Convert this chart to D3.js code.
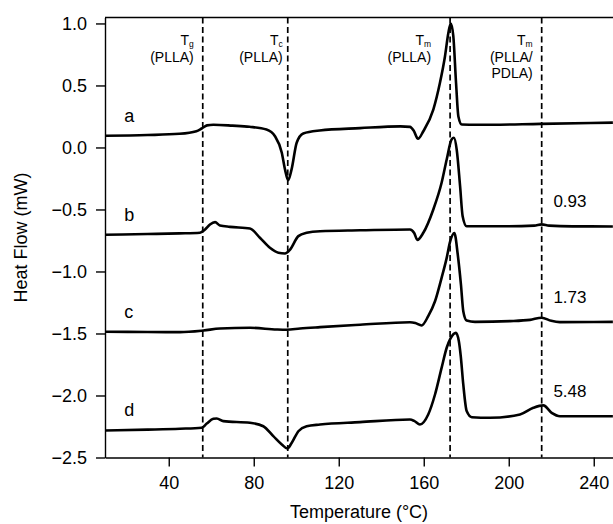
<!DOCTYPE html>
<html lang="en">
	<head>
		<title>DSC thermograms</title>
		<style>
			body { margin: 0; background: #fff; }
			text { font-family: Arial, "Liberation Sans", sans-serif; fill: #000; }
			.curve { fill: none; stroke: #000; stroke-width: 2.6px; stroke-linejoin: round; }
			.guide { stroke: #000; stroke-width: 1.7px; stroke-dasharray: 6,3.5; }
			.axis path, .axis line, .frame { stroke: #000; stroke-width: 1.4px; fill: none; }
			.axis text { font-size: 18px; }
		</style>
	</head>
	<body>
		<div id="graphic"></div>

		<script src="https://cdnjs.cloudflare.com/ajax/libs/d3/7.8.5/d3.min.js"></script>
		<script>
            // [temperature (°C), heat flow (mW)]
            var curveA = [[10, 0.094], [30, 0.100], [45, 0.110], [53, 0.131], [55.5, 0.153], [58, 0.178], [61, 0.183],
                          [70, 0.176], [78, 0.167], [86, 0.145], [90, 0.091], [93.2, -0.043], [94.7, -0.177], [96.2, -0.264],
                          [97.8, -0.177], [100.2, 0.038], [103.3, 0.113], [111, 0.137], [130, 0.156], [149, 0.170],
                          [153.5, 0.166], [155.3, 0.135], [157.3, 0.070], [159.8, 0.131], [164.5, 0.306], [167.6, 0.52],
                          [170, 0.736], [171.6, 0.925], [172.7, 1.0], [173.9, 0.90], [175.2, 0.52], [176.3, 0.25],
                          [177.9, 0.185], [185, 0.183], [215, 0.19], [249, 0.2]];
            var curveB = [[10, -0.704], [30, -0.698], [45, -0.693], [54.7, -0.688], [57.1, -0.661], [59.4, -0.621],
                          [61.8, -0.602], [64.1, -0.629], [68.8, -0.640], [78.2, -0.653], [82.9, -0.728], [87.6, -0.809],
                          [91.6, -0.849], [94.7, -0.855], [97.1, -0.823], [101, -0.715], [104.9, -0.688], [111.2, -0.675],
                          [130, -0.668], [153.5, -0.661], [155.5, -0.69], [157, -0.745], [159.8, -0.688], [164.5, -0.5],
                          [168.4, -0.285], [170.8, -0.097], [173.1, 0.065], [174.2, 0.078], [175.5, -0.016], [177.1, -0.312],
                          [178.3, -0.554], [180.2, -0.635], [200, -0.635], [212, -0.63], [215.5, -0.62], [219, -0.63],
                          [230, -0.636], [249, -0.637]];
            var curveC = [[10, -1.486], [30, -1.488], [45.3, -1.489], [56.3, -1.476], [64.1, -1.46], [78.2, -1.454],
                          [90.8, -1.468], [95.5, -1.47], [101.8, -1.46], [111.2, -1.449], [130, -1.43], [153.5, -1.409],
                          [156, -1.415], [159, -1.435], [162.1, -1.36], [165.3, -1.24], [168.4, -1.051], [170.8, -0.89],
                          [172.4, -0.76], [174.4, -0.69], [176, -0.863], [177.5, -1.105], [178.6, -1.32], [180.2, -1.395],
                          [184.1, -1.406], [200.6, -1.40], [210, -1.39], [215.5, -1.373], [220, -1.398], [224, -1.408],
                          [249, -1.406]];
            var curveD = [[10, -2.282], [30, -2.275], [45.3, -2.268], [55.5, -2.26], [57.9, -2.226], [61, -2.188],
                          [62.6, -2.185], [65.7, -2.207], [78.2, -2.22], [84.5, -2.248], [89.2, -2.328], [93.2, -2.395],
                          [95.8, -2.427], [97.9, -2.381], [101, -2.288], [104.9, -2.248], [111.2, -2.234], [130, -2.215],
                          [153.5, -2.194], [155.5, -2.205], [158.2, -2.234], [162.1, -2.153], [165.3, -1.992], [168.4, -1.777],
                          [170.8, -1.615], [172.6, -1.54], [175.1, -1.495], [176.5, -1.56], [177.4, -1.68],
                          [178.6, -1.911], [180.2, -2.126], [182.6, -2.175], [191.2, -2.18], [205.3, -2.153], [211.6, -2.099],
                          [216.3, -2.08], [220.2, -2.14], [224.1, -2.167], [249, -2.167]];

            var seriesNames = ['a', 'b', 'c', 'd'],
                seriesRatio = ['', '0.93', '1.73', '5.48'];

            var guideTemps = [56, 96, 172.4, 215.5],
                guideSub = ['g', 'c', 'm', 'm'],
                guideText = [['(PLLA)'], ['(PLLA)'], ['(PLLA)'], ['(PLLA/', 'PDLA)']];

            var xTicks = [40, 80, 120, 160, 200, 240],
                yTicks = [1.0, 0.5, 0.0, -0.5, -1.0, -1.5, -2.0, -2.5];

            var width = 613, height = 524;
            var curves = [curveA, curveB, curveC, curveD];

            var svg = d3.select('#graphic')
                        .append('svg')
                        .attr('width', width)
                        .attr('height', height);

            svg.append('rect').attr('width', width).attr('height', height).attr('fill', '#fff');

            var x = d3.scaleLinear().domain([10, 250]).range([105, 615]);
            var y = d3.scaleLinear().domain([-2.5, 1.048]).range([457.5, 17.5]);

            // top frame line
            svg.append('line').classed('frame', true)
               .attr('x1', x(10)).attr('x2', width + 2)
               .attr('y1', y.range()[1]).attr('y2', y.range()[1]);

            svg.append('g').classed('axis', true)
               .attr('transform', 'translate(0,' + y.range()[0] + ')')
               .call(d3.axisBottom(x).tickValues(xTicks).tickSize(9).tickPadding(10).tickSizeOuter(0));

            svg.append('g').classed('axis', true)
               .attr('transform', 'translate(' + x(10) + ',0)')
               .call(d3.axisLeft(y).tickValues(yTicks).tickFormat(d3.format('.1f')).tickSize(9).tickPadding(9).tickSizeOuter(0));

            svg.selectAll('.axis .domain').attr('stroke-width', 1.6);

            // dashed guides and their labels
            var labelGap = [9, 5, 19, 9];
            svg.selectAll('.guide')
               .data(guideTemps)
               .enter()
                   .append('line')
                   .classed('guide', true)
                   .attr('x1', function(d) { return x(d); })
                   .attr('x2', function(d) { return x(d); })
                   .attr('y1', y.range()[1])
                   .attr('y2', y.range()[0]);

            guideTemps.forEach(function(t, i) {
                var right = x(t) - labelGap[i];
                var tl = svg.append('text')
                            .attr('x', right)
                            .attr('y', 45)
                            .attr('text-anchor', 'end')
                            .style('font-size', '14px');
                tl.append('tspan').text('T');
                tl.append('tspan').attr('dy', 1.5).style('font-size', '8.5px').text(guideSub[i]);
                guideText[i].forEach(function(line, j) {
                    svg.append('text')
                       .attr('x', right)
                       .attr('y', 62 + j * 16)
                       .attr('text-anchor', 'end')
                       .style('font-size', '14px')
                       .text(line);
                });
            });

            var line = d3.line()
                         .x(function(d) { return x(d[0]); })
                         .y(function(d) { return y(d[1]); })
                         .curve(d3.curveMonotoneX);

            svg.append('g')
               .selectAll('.curve')
               .data(curves)
               .enter()
                   .append('path')
                   .classed('curve', true)
                   .attr('d', line);

            // series letters above each trace start
            svg.selectAll('.series-name')
               .data(curves)
               .enter()
                   .append('text')
                   .attr('x', x(19))
                   .attr('y', function(d) { return y(d[0][1]) - 14; })
                   .style('font-size', '18px')
                   .text(function(d, i) { return seriesNames[i]; });

            svg.selectAll('.series-ratio')
               .data(curves)
               .enter()
                   .append('text')
                   .attr('x', x(221))
                   .attr('y', function(d) { return y(d[d.length - 1][1]) - 19; })
                   .style('font-size', '17px')
                   .text(function(d, i) { return seriesRatio[i]; });

            svg.append('text')
               .attr('x', (x(10) + width) / 2)
               .attr('y', 518)
               .attr('text-anchor', 'middle')
               .style('font-size', '18px')
               .text('Temperature (°C)');

            svg.append('text')
               .attr('transform', 'translate(27,' + (y.range()[0] + y.range()[1]) / 2 + ') rotate(-90)')
               .attr('text-anchor', 'middle')
               .style('font-size', '18px')
               .text('Heat Flow (mW)');
		</script>
	</body>
</html>
